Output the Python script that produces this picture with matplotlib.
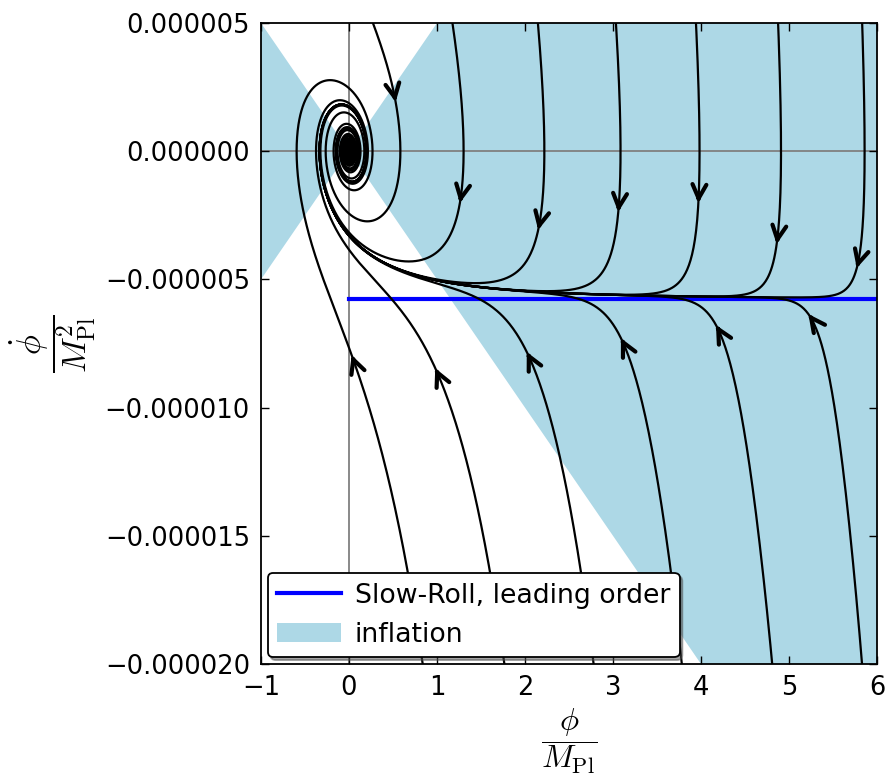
import math
import numpy as np
import matplotlib
matplotlib.use('Agg')
import matplotlib.pyplot as plt
from matplotlib.lines import Line2D
from matplotlib.patches import Patch

plt.rcParams['font.family'] = 'DejaVu Sans'
plt.rcParams['mathtext.fontset'] = 'cm'
plt.rcParams['axes.unicode_minus'] = True

# model: V = m^2 phi^2 / 2, M_Pl = 1
m = 7.07e-6
sr_phidot = -5.77e-6      # slow-roll, leading order: phidot = -sqrt(2/3) m
infl_slope = 5.0e-6       # inflation while |phidot| < infl_slope * |phi|

# arrow positions (phi, phidot)
arrow_phi = [0.53, 1.26, 2.15, 3.06, 3.97, 4.86, 5.77,
             0.03, 0.98, 2.02, 3.09, 4.17, 5.22]
arrow_phidot = [1.92e-6, -2.02e-6, -3.07e-6, -2.37e-6, -2.02e-6, -3.62e-6, -4.56e-6,
                -7.95e-6, -8.46e-6, -7.83e-6, -7.29e-6, -6.78e-6, -6.35e-6]

xlim = (-1, 6)
ylim = (-2e-5, 5e-6)
xticks = [-1, 0, 1, 2, 3, 4, 5, 6]
yticks = [5e-6, 0, -5e-6, -1e-5, -1.5e-5, -2e-5]
ytick_labels = ['0.000005', '0.000000', '\u22120.000005', '\u22120.000010',
                '\u22120.000015', '\u22120.000020']
xtick_labels = ['\u22121', '0', '1', '2', '3', '4', '5', '6']


# equation of motion in units tau = m t, v = phidot / m
def rhs(p, v):
    h = math.sqrt((v * v + p * p) / 6.0)
    return v, -3.0 * h * v - p


def integrate(p, v, dt, tmax):
    ps, vs = [p], [v]
    n = int(tmax / abs(dt))
    for _ in range(n):
        k1p, k1v = rhs(p, v)
        k2p, k2v = rhs(p + 0.5 * dt * k1p, v + 0.5 * dt * k1v)
        k3p, k3v = rhs(p + 0.5 * dt * k2p, v + 0.5 * dt * k2v)
        k4p, k4v = rhs(p + dt * k3p, v + dt * k3v)
        p = p + dt / 6.0 * (k1p + 2 * k2p + 2 * k3p + k4p)
        v = v + dt / 6.0 * (k1v + 2 * k2v + 2 * k3v + k4v)
        ps.append(p)
        vs.append(v)
        if p < -1.5 or p > 6.5 or v * m > 7e-6 or v * m < -2.2e-5:
            break
    return np.array(ps), np.array(vs) * m


fig = plt.figure(figsize=(8.87, 7.79), dpi=100)
ax = fig.add_axes([261 / 887, 1 - 664 / 779, 616 / 887, 641 / 779])
ax.set_xlim(*xlim)
ax.set_ylim(*ylim)

# inflation region
xf = np.array([xlim[0], 0, xlim[1]])
ax.fill_between(xf, -infl_slope * np.abs(xf), infl_slope * np.abs(xf),
                color='lightblue', lw=0, zorder=0)
ax.axhline(0, color='gray', lw=1.3, zorder=1)
ax.axvline(0, color='gray', lw=1.3, zorder=1)

ax.plot([0, xlim[1]], [sr_phidot, sr_phidot], color='blue', lw=3, zorder=2)

sx = 616 / (xlim[1] - xlim[0])
sy = 641 / (ylim[1] - ylim[0])
for p0, y0 in zip(arrow_phi, arrow_phidot):
    pf, yf = integrate(p0, y0 / m, 0.01, 200)
    pb, yb = integrate(p0, y0 / m, -0.005, 50)
    ax.plot(np.concatenate([pb[::-1], pf]), np.concatenate([yb[::-1], yf]),
            color='k', lw=1.6, zorder=3)
    # arrow direction in screen space
    dx = (pf[2] - pb[2]) * sx
    dy = (yf[2] - yb[2]) * sy
    nrm = math.hypot(dx, dy)
    ax.annotate('', xy=(p0, y0), xytext=(-dx / nrm * 4, -dy / nrm * 4),
                textcoords='offset points',
                arrowprops=dict(arrowstyle='->', color='k', lw=3,
                                mutation_scale=25, shrinkA=0, shrinkB=0),
                zorder=4)

ax.set_xticks(xticks)
ax.set_xticklabels(xtick_labels)
ax.set_yticks(yticks)
ax.set_yticklabels(ytick_labels)
ax.tick_params(direction='in', length=6, width=1, labelsize=18.5, pad=8,
               top=True, right=True)
for s in ax.spines.values():
    s.set_linewidth(1.3)

ax.set_xlabel(r'$\dfrac{\phi}{M_{\rm Pl}}$', fontsize=23)
ax.set_ylabel(r'$\dfrac{\dot{\phi}}{M_{\rm Pl}^2}$', fontsize=24)
ax.xaxis.set_label_coords(0.5, -0.066)
ax.yaxis.set_label_coords(-0.264, 0.5)

handles = [Line2D([], [], color='blue', lw=3),
           Patch(facecolor='lightblue', edgecolor='none')]
leg = ax.legend(handles, ['Slow-Roll, leading order', 'inflation'],
                loc='lower left', fontsize=19.3, fancybox=True, shadow=True,
                framealpha=1, edgecolor='black', handlelength=2.4,
                handletextpad=0.5, borderpad=0.35,
                borderaxespad=0.25, labelspacing=0.5)
leg.get_frame().set_linewidth(1.3)
leg.set_zorder(10)

fig.savefig('out.png', dpi=100)
